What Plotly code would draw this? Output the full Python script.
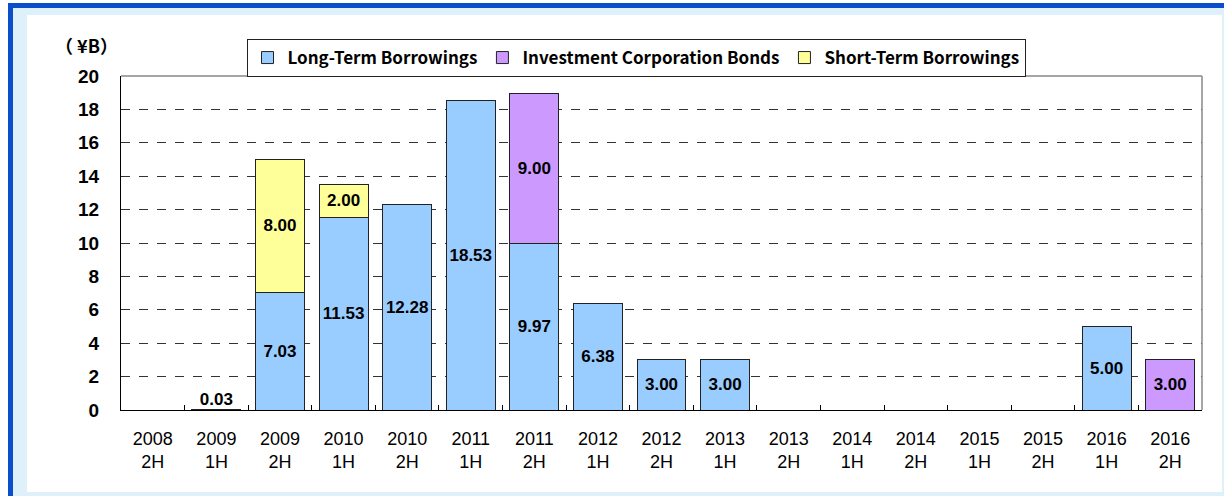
import plotly.graph_objects as go

categories = ["2008<br>2H", "2009<br>1H", "2009<br>2H", "2010<br>1H", "2010<br>2H",
              "2011<br>1H", "2011<br>2H", "2012<br>1H", "2012<br>2H", "2013<br>1H",
              "2013<br>2H", "2014<br>1H", "2014<br>2H", "2015<br>1H", "2015<br>2H",
              "2016<br>1H", "2016<br>2H"]
long_term = [None, 0.03, 7.03, 11.53, 12.28, 18.53, 9.97, 6.38, 3.00, 3.00,
             None, None, None, None, None, 5.00, None]
bonds = [None, None, None, None, None, None, 9.00, None, None, None,
         None, None, None, None, None, None, 3.00]
short_term = [None, None, 8.00, 2.00, None, None, None, None, None, None,
              None, None, None, None, None, None, None]
y_ticks = [0, 2, 4, 6, 8, 10, 12, 14, 16, 18, 20]

W, H = 1224, 496
ML, MR, MT, MB = 121, 22, 76, 86
PW, PH = W - ML - MR, H - MT - MB

def px(x):
    return (x - ML) / PW

def py(y):
    return (H - MB - y) / PH

SMALL = 0.5

def labels(vals, inside=True):
    out = []
    for v in vals:
        if v is None:
            out.append("")
        elif inside and v < SMALL:
            out.append("")
        else:
            out.append(f"{v:.2f}")
    return out

label_font = dict(family="Liberation Sans", size=17, color="black", weight="bold")
edge = dict(color="#222222", width=1)

fig = go.Figure()
fig.add_trace(go.Bar(name="Long-Term Borrowings", x=categories, y=long_term,
                     marker=dict(color="#99CCFF", line=edge),
                     text=labels(long_term), textposition="inside",
                     insidetextanchor="middle", textangle=0,
                     insidetextfont=label_font, constraintext="none"))
fig.add_trace(go.Bar(name="Investment Corporation Bonds", x=categories, y=bonds,
                     marker=dict(color="#CC99FF", line=edge),
                     text=labels(bonds), textposition="inside",
                     insidetextanchor="middle", textangle=0,
                     insidetextfont=label_font, constraintext="none"))
fig.add_trace(go.Bar(name="Short-Term Borrowings", x=categories, y=short_term,
                     marker=dict(color="#FFFF99", line=edge),
                     text=labels(short_term), textposition="inside",
                     insidetextanchor="middle", textangle=0,
                     insidetextfont=label_font, constraintext="none"))

# labels for very small bars, placed above the bar
sx = [c for c, v in zip(categories, long_term) if v is not None and v < SMALL]
sy = [v for v in long_term if v is not None and v < SMALL]
fig.add_trace(go.Scatter(x=sx, y=sy, mode="text", text=[f"{v:.2f}" for v in sy],
                         textposition="top center", textfont=label_font,
                         showlegend=False, hoverinfo="skip"))

shapes = [
    dict(type="rect", xref="paper", yref="paper", x0=px(13), x1=px(W + 5),
         y0=py(8), y1=py(H + 5), fillcolor="#DEF0FA", line=dict(width=0), layer="below"),
    dict(type="rect", xref="paper", yref="paper", x0=px(27), x1=px(1222),
         y0=py(15), y1=py(492), fillcolor="white", line=dict(width=0), layer="below"),
    dict(type="rect", xref="paper", yref="paper", x0=px(8), x1=px(W + 5),
         y0=py(3), y1=py(8), fillcolor="#0A4ECB", line=dict(width=0), layer="below"),
    dict(type="rect", xref="paper", yref="paper", x0=px(8), x1=px(13),
         y0=py(3), y1=py(H + 5), fillcolor="#0A4ECB", line=dict(width=0), layer="below"),
]

fig.update_layout(
    width=W, height=H,
    margin=dict(l=ML, r=MR, t=MT, b=MB),
    paper_bgcolor="white", plot_bgcolor="white",
    barmode="stack", bargap=0.23,
    shapes=shapes,
    showlegend=True,
    hovermode=False,
    legend=dict(orientation="h", x=px(636), xanchor="center", y=py(39), yanchor="top",
                bordercolor="#222222", borderwidth=1, bgcolor="white",
                font=dict(family="Noto Sans CJK JP", size=17, color="black", weight="bold"),
                itemwidth=30, tracegroupgap=0, traceorder="normal"),
    annotations=[dict(text="（ ¥B）", xref="paper", yref="paper", x=px(86), y=py(45),
                      xanchor="center", yanchor="middle", showarrow=False,
                      font=dict(family="Noto Sans CJK JP", size=18, color="black", weight="bold"))],
    font=dict(family="Liberation Sans", color="black"),
)
fig.update_xaxes(type="category", showline=True, linecolor="black", linewidth=1,
                 mirror=False, ticks="inside", tickson="boundaries", ticklen=5,
                 tickcolor="black", tickfont=dict(family="Liberation Sans", size=18, color="black"),
                 ticklabelstandoff=12, showgrid=False)
fig.update_yaxes(range=[0, 20], tickvals=y_ticks, showline=True, linecolor="black",
                 linewidth=1, showgrid=True, gridcolor="#333333", griddash="dash",
                 gridwidth=1, zeroline=False, ticks="",
                 tickfont=dict(family="Liberation Sans", size=19, color="black", weight="bold"),
                 ticklabelstandoff=17)
# top and right frame of the plot area
fig.add_shape(type="line", xref="paper", yref="paper", x0=0, x1=1, y0=1, y1=1,
              line=dict(color="#888888", width=1.5))
fig.add_shape(type="line", xref="paper", yref="paper", x0=1, x1=1, y0=0, y1=1,
              line=dict(color="#888888", width=1.5))

fig.write_html("out.html", config={"displayModeBar": False},
               post_script="document.body.style.margin='0';")
